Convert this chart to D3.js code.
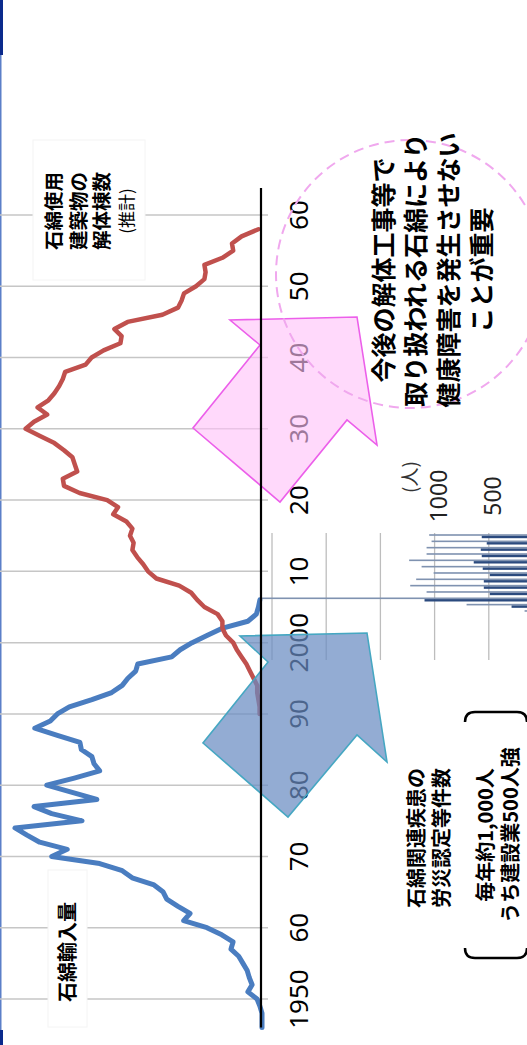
<!DOCTYPE html>
<html><head><meta charset="utf-8">
<script src="https://cdn.jsdelivr.net/npm/d3@7"></script>
<style>html,body{margin:0;padding:0;background:#fff;}svg{display:block;}</style>
</head><body>
<script>
// ---- data ----
const importYears = [1946,1947,1948,1949,1950,1951,1952,1953,1954,1955,1956,1957,1958,1959,1960,1961,1962,1963,1964,1965,1966,1967,1968,1969,1970,1971,1972,1973,1974,1975,1976,1977,1978,1979,1980,1981,1982,1983,1984,1985,1986,1987,1988,1989,1990,1991,1992,1993,1994,1995,1996,1997,1998,1999,2000,2001,2002,2003,2004,2005,2006];
const importVals  = [0,0,0,3,7,20,14,18,21,27,33,44,41,57,78,111,102,119,135,140,153,184,198,230,298,276,315,333,350,255,298,323,234,269,305,266,230,238,241,256,258,290,322,300,290,273,241,213,198,190,179,176,128,116,99,78,57,20,8,5,3];
const demolYears = [1990,1991,1992,1993,1994,1995,1996,1997,1998,1999,2000,2001,2002,2003,2004,2005,2006,2007,2008,2009,2010,2011,2012,2013,2014,2015,2016,2017,2018,2019,2020,2021,2022,2023,2024,2025,2026,2027,2028,2029,2030,2031,2032,2033,2034,2035,2036,2037,2038,2039,2040,2041,2042,2043,2044,2045,2046,2047,2048,2049,2050,2051,2052,2053,2054,2055,2056,2057,2058];
const demolVals  = [0.1,0.1,0.15,0.2,0.2,0.35,0.5,0.65,0.85,1.05,1.2,1.5,1.65,1.65,1.85,2.4,2.7,2.95,3.45,4.4,4.75,4.95,5.2,5.4,5.35,5.5,5.4,5.65,6.2,6.0,6.45,7.6,8.25,8.3,7.7,7.8,7.9,8.25,8.65,9.25,9.85,9.5,8.95,9.35,8.9,8.65,8.45,8.3,8.2,7.35,7.1,6.6,5.9,5.85,6.15,5.6,4.15,3.5,3.35,3.25,2.75,2.4,2.35,2.4,1.65,1.2,1.25,0.85,0.15];
const tickYears  = [1950,1960,1970,1980,1990,2000,2010,2020,2030,2040,2050,2060];
const tickLabels = ["1950","60","70","80","90","2000","10","20","30","40","50","60"];
const barYears   = [2004,2005,2006,2007,2008,2009,2010,2011,2012,2013,2014,2015,2016];
const barTotal   = [170,705,2600,1074,1225,1170,1009,1120,1235,1074,1074,1028,1050];
const barConstr  = [60,290,1093,491,546,546,491,556,639,565,574,519,565];
const barGrid    = [500,1000,1500,2000,2500];
const barTickVals = [500,1000];
const barTickLabels = ["500","1000"];

// ---- setup ----
const W = 527, H = 1045;
const JP = "'Noto Sans CJK JP','Noto Sans',sans-serif";
const NUM = "'Noto Sans','Noto Sans CJK JP',sans-serif";
const svg = d3.select("body").append("svg").attr("width", W).attr("height", H);

// slide frame on the left edge
svg.append("rect").attr("x",0).attr("y",0).attr("width",1.5).attr("height",H).attr("fill","#5b7fc8");
svg.append("rect").attr("x",0).attr("y",0).attr("width",3).attr("height",55).attr("fill","#0b2a8c");
svg.append("rect").attr("x",0).attr("y",1030).attr("width",3).attr("height",15).attr("fill","#0b2a8c");

// everything drawn in an unrotated frame, then turned 90° counter-clockwise
const g = svg.append("g").attr("transform", `translate(0,${H}) rotate(-90)`);

const x = d3.scaleLinear().domain([1950, 2060]).range([46, 830]);
const yImp = d3.scaleLinear().domain([0, 350]).range([262, 15]);
const yDem = d3.scaleLinear().domain([0, 10]).range([262, 22]);
const xBar = d3.scaleLinear().domain([2006, 2016]).range([446.7, 510]);
const yBar = d3.scaleLinear().domain([0, 2500]).range([543, 272]);

// gridlines
g.selectAll("line.grid").data(tickYears).join("line")
  .attr("x1", d => x(d)).attr("x2", d => x(d)).attr("y1", 0).attr("y2", 268)
  .attr("stroke", "#c6c6c6").attr("stroke-width", 1.5);

// label boxes
g.append("rect").attr("x",18).attr("y",48).attr("width",157).attr("height",39).attr("fill","#fff").attr("stroke","#f4f4f4");
g.append("rect").attr("x",765).attr("y",33).attr("width",140).attr("height",112).attr("fill","#fff").attr("stroke","#f4f4f4");

g.append("text").attr("x",93).attr("y",66).attr("text-anchor","middle").attr("dominant-baseline","central")
  .attr("font-family",JP).attr("font-weight",700).attr("font-size",20).text("石綿輸入量");

const demLab = [["石綿使用",52,19.5,700],["建築物の",77,19.5,700],["解体棟数",100,19.5,700],["(推計)",125,17,400]];
g.selectAll("text.dl").data(demLab).join("text")
  .attr("x",834).attr("y",d=>d[1]).attr("text-anchor","middle").attr("dominant-baseline","central")
  .attr("font-family",JP).attr("font-weight",d=>d[3]).attr("font-size",d=>d[2]).text(d=>d[0]);

// tick labels
g.selectAll("text.tick").data(tickYears).join("text")
  .attr("x", d => x(d)).attr("y", 298).attr("text-anchor","middle").attr("dominant-baseline","central")
  .attr("font-family",NUM).attr("font-size",26).attr("fill","#000")
  .text((d,i) => tickLabels[i]);

// lines
const impData = importYears.map((yr,i)=>({yr, v:importVals[i]}));
const demData = demolYears.map((yr,i)=>({yr, v:demolVals[i]}));
g.append("path").datum(impData)
  .attr("d", d3.line().x(d=>x(d.yr)).y(d=>yImp(d.v)))
  .attr("fill","none").attr("stroke","#4a7dc0").attr("stroke-width",5).attr("stroke-linejoin","round").attr("stroke-linecap","round");
g.append("path").datum(demData)
  .attr("d", d3.line().x(d=>x(d.yr)).y(d=>yDem(d.v)))
  .attr("fill","none").attr("stroke","#c0504d").attr("stroke-width",4.5).attr("stroke-linejoin","round").attr("stroke-linecap","round");

// bar chart
g.selectAll("line.bgrid").data(barGrid).join("line")
  .attr("x1",385).attr("x2",512).attr("y1",d=>yBar(d)).attr("y2",d=>yBar(d))
  .attr("stroke","#bdbdbd").attr("stroke-width",1.3);
g.selectAll("rect.tot").data(barYears).join("rect")
  .attr("x", d => xBar(d) - 0.8).attr("width", 1.6)
  .attr("y", (d,i) => yBar(barTotal[i])).attr("height", (d,i) => yBar(0) - yBar(barTotal[i]))
  .attr("fill", "#7f92b0");
g.selectAll("rect.con").data(barYears).join("rect")
  .attr("x", d => xBar(d) - 3.2).attr("width", 2.4)
  .attr("y", (d,i) => yBar(barConstr[i])).attr("height", (d,i) => yBar(0) - yBar(barConstr[i]))
  .attr("fill", "#2b4a7e");
g.selectAll("text.btick").data(barTickVals).join("text")
  .attr("x", 549).attr("y", d => yBar(d) + 3).attr("text-anchor","middle").attr("dominant-baseline","central")
  .attr("font-family",NUM).attr("font-size",23).attr("fill","#222")
  .text((d,i)=>barTickLabels[i]);
g.append("text").attr("x",568).attr("y",408).attr("text-anchor","middle").attr("dominant-baseline","central")
  .attr("font-family",JP).attr("font-size",19).attr("fill","#333").text("(人)");

// arrows
const blueArrow = [[412,367],[283,387],[310,357],[228,288],[302,203],[383,268],[409,240]];
const pinkArrow = [[728,357],[600,377],[625,347],[543,280],[617,193],[700,260],[725,230]];
g.append("polygon").attr("points", blueArrow.map(p=>p.join(",")).join(" "))
  .attr("fill","#6a8cc2").attr("fill-opacity",0.72).attr("stroke","#46a7c2").attr("stroke-width",1.6);
g.append("polygon").attr("points", pinkArrow.map(p=>p.join(",")).join(" "))
  .attr("fill","#ffc2f8").attr("fill-opacity",0.62).attr("stroke","#ec5fea").attr("stroke-width",1.6);

// main axis line
g.append("line").attr("x1", x(1946)).attr("x2", x(2063.8)).attr("y1",261).attr("y2",261)
  .attr("stroke","#000").attr("stroke-width",2.2);

// dashed circle
g.append("circle").attr("cx",771).attr("cy",410).attr("r",134)
  .attr("fill","none").attr("stroke","#f0a8ee").attr("stroke-width",2).attr("stroke-dasharray","10,6");

// message
const msg = [["今後の解体工事等で",382],["取り扱われる石綿により",414],["健康障害を発生させない",447],["ことが重要",480]];
g.selectAll("text.msg").data(msg).join("text")
  .attr("x",775).attr("y",d=>d[1]).attr("text-anchor","middle").attr("dominant-baseline","central")
  .attr("font-family",JP).attr("font-weight",700).attr("font-size",25).text(d=>d[0]);

// disease labels
const dis = [["石綿関連疾患の",415],["労災認定等件数",440],["毎年約1,000人",484],["うち建設業500人強",509]];
g.selectAll("text.dis").data(dis).join("text")
  .attr("x",(d,i)=> i<2 ? 207 : 210).attr("y",d=>d[1]).attr("text-anchor","middle").attr("dominant-baseline","central")
  .attr("font-family",JP).attr("font-weight",700).attr("font-size",20).text(d=>d[0]);

// brackets
g.append("path").attr("d","M97,465 Q87,465 87,475 L87,517 Q87,527 97,527")
  .attr("fill","none").attr("stroke","#000").attr("stroke-width",2.5);
g.append("path").attr("d","M323,465 Q333,465 333,475 L333,517 Q333,527 323,527")
  .attr("fill","none").attr("stroke","#000").attr("stroke-width",2.5);
</script>
</body></html>
